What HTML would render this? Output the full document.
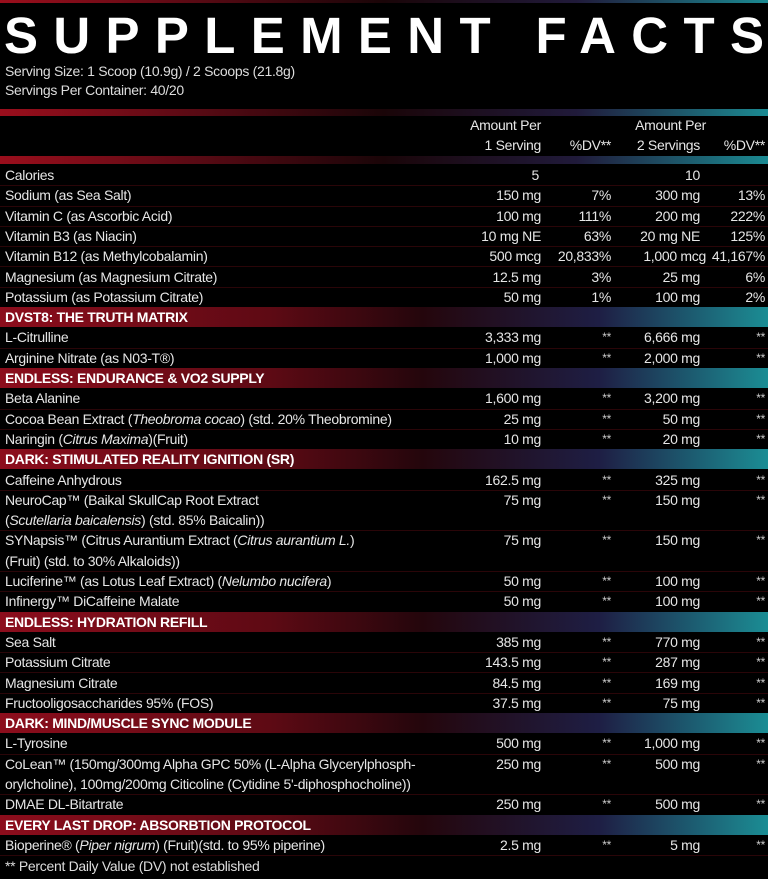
<!DOCTYPE html>
<html><head><meta charset="utf-8"><style>
body{margin:0;width:768px;height:879px;background:#000;overflow:hidden;position:relative;font-family:"Liberation Sans",sans-serif;color:#e6e6e6}
.bar{position:absolute;left:0;width:768px;background:linear-gradient(90deg,#9a0e1c 0%,#5a0a14 25%,#1a0508 50%,#201a3a 75%,#1b8a92 100%)}
.r{position:absolute;left:0;width:768px;height:20.3px;font-size:14px;letter-spacing:-0.3px;line-height:20.3px;border-bottom:1px solid #2a0508}
.r span{position:absolute;top:0;white-space:nowrap}
.n{left:5px}.a{right:227px;text-align:right}.d{right:157px}.b{right:68px}.e{right:3px}
.h{background:linear-gradient(90deg,#8c0d1c 0%,#5e0a14 35%,#24060c 55%,#1e1e44 78%,#1b8d94 100%);font-weight:bold;color:#fff;border:none}
.s{font-size:12px;color:#ccc}
.t{position:absolute;left:5px;font-size:14px;letter-spacing:-0.3px;color:#ddd}
</style></head><body>
<div class="bar" style="top:0;height:3px"></div>
<svg style="position:absolute;left:0;top:0" width="768" height="60"><text x="4" y="53" textLength="760" lengthAdjust="spacing" font-family="Liberation Sans" font-weight="bold" font-size="51" fill="#fff">SUPPLEMENT FACTS</text></svg>
<div class="t" style="top:63px">Serving Size: 1 Scoop (10.9g) / 2 Scoops (21.8g)</div>
<div class="t" style="top:82px">Servings Per Container: 40/20</div>
<div class="bar" style="top:109px;height:7px"></div>
<div class="r" style="top:115px;border:none"><span class="a">Amount Per</span><span class="b" style="right:62px">Amount Per</span></div>
<div class="r" style="top:135px;border:none"><span class="a">1 Serving</span><span class="d">%DV**</span><span class="b">2 Servings</span><span class="e">%DV**</span></div>
<div class="bar" style="top:156px;height:8px"></div>
<div class="r" style="top:165px"><span class="n">Calories</span><span class="a" style="right:229px">5</span><span class="b">10</span></div>
<div class="r" style="top:185.3px"><span class="n">Sodium (as Sea Salt)</span><span class="a">150 mg</span><span class="d">7%</span><span class="b">300 mg</span><span class="e">13%</span></div>
<div class="r" style="top:205.6px"><span class="n">Vitamin C (as Ascorbic Acid)</span><span class="a">100 mg</span><span class="d">111%</span><span class="b">200 mg</span><span class="e">222%</span></div>
<div class="r" style="top:225.9px"><span class="n">Vitamin B3 (as Niacin)</span><span class="a">10 mg NE</span><span class="d">63%</span><span class="b">20 mg NE</span><span class="e">125%</span></div>
<div class="r" style="top:246.2px"><span class="n">Vitamin B12 (as Methylcobalamin)</span><span class="a">500 mcg</span><span class="d">20,833%</span><span class="b" style="right:62px">1,000 mcg</span><span class="e">41,167%</span></div>
<div class="r" style="top:266.5px"><span class="n">Magnesium (as Magnesium Citrate)</span><span class="a">12.5 mg</span><span class="d">3%</span><span class="b">25 mg</span><span class="e">6%</span></div>
<div class="r" style="top:286.8px"><span class="n">Potassium (as Potassium Citrate)</span><span class="a">50 mg</span><span class="d">1%</span><span class="b">100 mg</span><span class="e">2%</span></div>
<div class="r h" style="top:307.1px"><span class="n">DVST8: THE TRUTH MATRIX</span></div>
<div class="r" style="top:327.4px"><span class="n">L-Citrulline</span><span class="a">3,333 mg</span><span class="d s">**</span><span class="b">6,666 mg</span><span class="e s">**</span></div>
<div class="r" style="top:347.7px"><span class="n">Arginine Nitrate (as N03-T®)</span><span class="a">1,000 mg</span><span class="d s">**</span><span class="b">2,000 mg</span><span class="e s">**</span></div>
<div class="r h" style="top:368px"><span class="n">ENDLESS: ENDURANCE &amp; VO2 SUPPLY</span></div>
<div class="r" style="top:388.3px"><span class="n">Beta Alanine</span><span class="a">1,600 mg</span><span class="d s">**</span><span class="b">3,200 mg</span><span class="e s">**</span></div>
<div class="r" style="top:408.6px"><span class="n">Cocoa Bean Extract (<i>Theobroma cocao</i>) (std. 20% Theobromine)</span><span class="a">25 mg</span><span class="d s">**</span><span class="b">50 mg</span><span class="e s">**</span></div>
<div class="r" style="top:428.9px"><span class="n">Naringin (<i>Citrus Maxima</i>)(Fruit)</span><span class="a">10 mg</span><span class="d s">**</span><span class="b">20 mg</span><span class="e s">**</span></div>
<div class="r h" style="top:449.2px"><span class="n">DARK: STIMULATED REALITY IGNITION (SR)</span></div>
<div class="r" style="top:469.5px"><span class="n">Caffeine Anhydrous</span><span class="a">162.5 mg</span><span class="d s">**</span><span class="b">325 mg</span><span class="e s">**</span></div>
<div class="r" style="top:489.8px;border:none"><span class="n">NeuroCap™ (Baikal SkullCap Root Extract</span><span class="a">75 mg</span><span class="d s">**</span><span class="b">150 mg</span><span class="e s">**</span></div>
<div class="r" style="top:510.1px"><span class="n">(<i>Scutellaria baicalensis</i>) (std. 85% Baicalin))</span></div>
<div class="r" style="top:530.4px;border:none"><span class="n">SYNapsis™ (Citrus Aurantium Extract (<i>Citrus aurantium L.</i>)</span><span class="a">75 mg</span><span class="d s">**</span><span class="b">150 mg</span><span class="e s">**</span></div>
<div class="r" style="top:550.7px"><span class="n">(Fruit) (std. to 30% Alkaloids))</span></div>
<div class="r" style="top:571px"><span class="n">Luciferine™ (as Lotus Leaf Extract) (<i>Nelumbo nucifera</i>)</span><span class="a">50 mg</span><span class="d s">**</span><span class="b">100 mg</span><span class="e s">**</span></div>
<div class="r" style="top:591.3px"><span class="n">Infinergy™ DiCaffeine Malate</span><span class="a">50 mg</span><span class="d s">**</span><span class="b">100 mg</span><span class="e s">**</span></div>
<div class="r h" style="top:611.6px"><span class="n">ENDLESS: HYDRATION REFILL</span></div>
<div class="r" style="top:631.9px"><span class="n">Sea Salt</span><span class="a">385 mg</span><span class="d s">**</span><span class="b">770 mg</span><span class="e s">**</span></div>
<div class="r" style="top:652.2px"><span class="n">Potassium Citrate</span><span class="a">143.5 mg</span><span class="d s">**</span><span class="b">287 mg</span><span class="e s">**</span></div>
<div class="r" style="top:672.5px"><span class="n">Magnesium Citrate</span><span class="a">84.5 mg</span><span class="d s">**</span><span class="b">169 mg</span><span class="e s">**</span></div>
<div class="r" style="top:692.8px"><span class="n">Fructooligosaccharides 95% (FOS)</span><span class="a">37.5 mg</span><span class="d s">**</span><span class="b">75 mg</span><span class="e s">**</span></div>
<div class="r h" style="top:713.1px"><span class="n">DARK: MIND/MUSCLE SYNC MODULE</span></div>
<div class="r" style="top:733.4px"><span class="n">L-Tyrosine</span><span class="a">500 mg</span><span class="d s">**</span><span class="b">1,000 mg</span><span class="e s">**</span></div>
<div class="r" style="top:753.7px;border:none"><span class="n">CoLean™ (150mg/300mg Alpha GPC 50% (L-Alpha Glycerylphosph-</span><span class="a">250 mg</span><span class="d s">**</span><span class="b">500 mg</span><span class="e s">**</span></div>
<div class="r" style="top:774px"><span class="n">orylcholine), 100mg/200mg Citicoline (Cytidine 5'-diphosphocholine))</span></div>
<div class="r" style="top:794.3px"><span class="n">DMAE DL-Bitartrate</span><span class="a">250 mg</span><span class="d s">**</span><span class="b">500 mg</span><span class="e s">**</span></div>
<div class="r h" style="top:814.6px"><span class="n">EVERY LAST DROP: ABSORBTION PROTOCOL</span></div>
<div class="r" style="top:834.9px"><span class="n">Bioperine® (<i>Piper nigrum</i>) (Fruit)(std. to 95% piperine)</span><span class="a">2.5 mg</span><span class="d s">**</span><span class="b">5 mg</span><span class="e s">**</span></div>
<div class="t" style="top:858px">** Percent Daily Value (DV) not established</div>
</body></html>
